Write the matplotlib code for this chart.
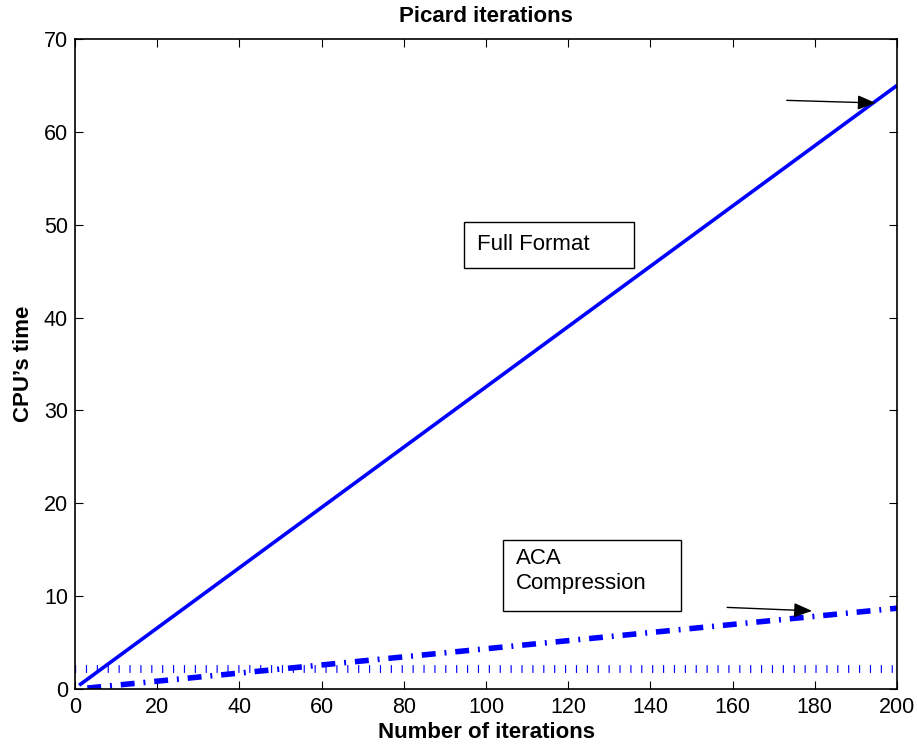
import matplotlib
matplotlib.use("Agg")
import matplotlib.pyplot as plt
from matplotlib.patches import Rectangle

# dati
x_full = [1, 200]
y_full = [0.4, 65]
x_aca = [3, 200]
y_aca = [0.1, 8.7]
x_ref = [0, 200]
y_ref = [2.2, 2.2]

plt.rcParams['font.family'] = ['Liberation Sans', 'DejaVu Sans']

fig = plt.figure(figsize=(9.17, 7.44), dpi=100)
ax = fig.add_axes([75/917, 1-689/744, 822/917, 650/744])

ax.plot(x_full, y_full, color='#0000ff', lw=2.6, solid_capstyle='butt')
ax.plot(x_aca, y_aca, color='#0000ff', lw=4, linestyle=(0, (2.5, 1.6, 0.35, 1.6)), dash_capstyle='butt')
ax.plot(x_ref, y_ref, color='#0000ff', lw=5.6, linestyle=(0, (0.15, 1.25)), dash_capstyle='butt')

ax.set_xlim(0, 200)
ax.set_ylim(0, 70)
ax.set_xticks(range(0, 201, 20))
ax.set_yticks(range(0, 71, 10))
ax.tick_params(direction='in', top=True, right=True, labelsize=15.5, length=6, width=0.8)
ax.tick_params(axis='x', pad=6)
ax.tick_params(axis='y', pad=5)
for s in ax.spines.values():
    s.set_linewidth(1.2)

ax.set_title("Picard iterations", fontsize=16, fontweight='bold', pad=12)
ax.set_xlabel("Number of iterations", fontsize=16, fontweight='bold', labelpad=3)
ax.set_ylabel("CPU\u2019s time", fontsize=16, fontweight='bold', labelpad=7)

# frecce
stile = '-|>,head_length=0.55,head_width=0.22'
ax.annotate("", xy=(195.5, 63.1), xytext=(172.5, 63.4),
            arrowprops=dict(arrowstyle=stile, color='black', lw=1, mutation_scale=20))
ax.annotate("", xy=(180, 8.4), xytext=(158, 8.8),
            arrowprops=dict(arrowstyle=stile, color='black', lw=1, mutation_scale=20))

# riquadri di testo
ax.add_patch(Rectangle((94.6, 45.3), 41.4, 5.0, fc='white', ec='black', lw=1, zorder=3))
ax.text(97.8, 47.9, "Full Format", fontsize=16, va='center', ha='left', zorder=4)
ax.add_patch(Rectangle((104.1, 8.4), 43.3, 7.6, fc='white', ec='black', lw=1, zorder=3))
ax.text(107.3, 12.7, "ACA\nCompression", fontsize=16, va='center', ha='left',
        linespacing=1.3, zorder=4)

plt.savefig("out.png", dpi=100)
